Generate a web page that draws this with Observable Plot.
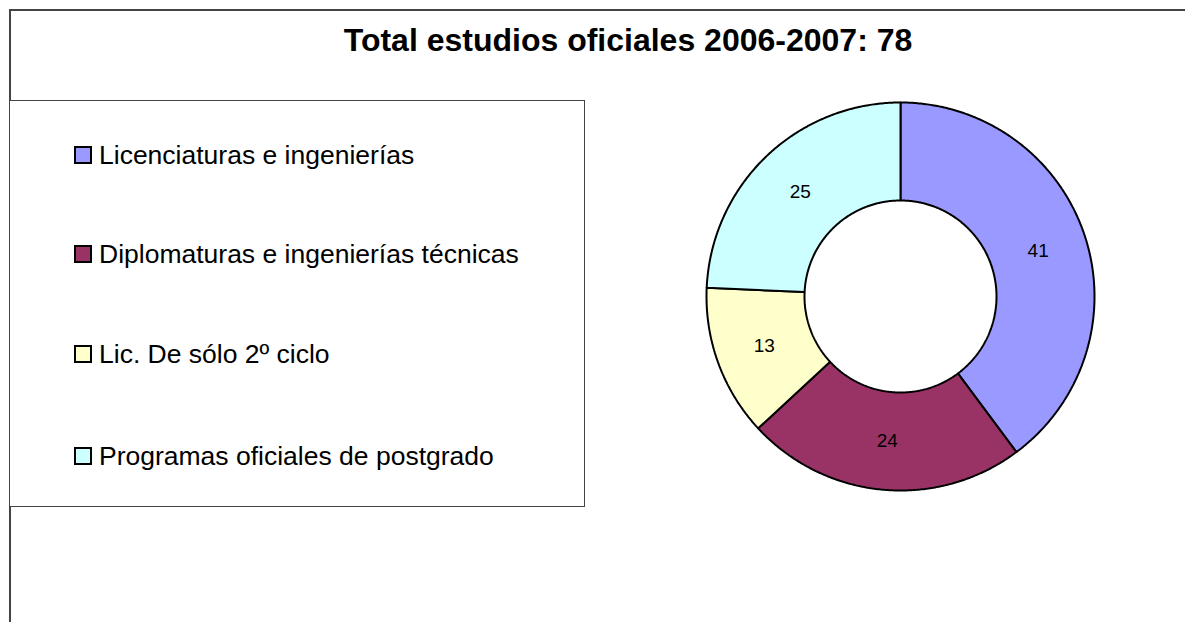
<!DOCTYPE html>
<html>
<head>
<meta charset="utf-8">
<script src="https://cdn.jsdelivr.net/npm/d3@7"></script>
<script src="https://cdn.jsdelivr.net/npm/@observablehq/plot@0.6"></script>
<style>
  html, body { margin: 0; padding: 0; background: #fff; }
  body { font-family: "Liberation Sans", Arial, sans-serif; }
  #page { position: relative; width: 1185px; height: 622px; overflow: hidden; }
  #frame { position: absolute; left: 9px; top: 9px; width: 1300px; height: 800px;
           border-left: 2px solid #444; border-top: 2px solid #444; box-sizing: border-box; }
  #title { position: absolute; left: 0; width: 1256px; top: 20px; text-align: center;
           font-size: 32px; font-weight: bold; color: #000; line-height: 40px; }
  #legend { position: absolute; left: 9px; top: 100px; width: 576px; height: 407px;
            border: 1.5px solid #444; box-sizing: border-box; background: #fff; }
  .item { position: absolute; left: 64px; height: 30px; display: flex; align-items: center; font-size: 26.5px; color: #000; line-height: 30px; }
  .sw { width: 14px; height: 14px; border: 2px solid #000; margin-right: 7px; }
  #chart { position: absolute; left: 690px; top: 86px; }
</style>
</head>
<body>
<div id="page">
  <div id="frame"></div>
  <div id="title"></div>
  <div id="legend"></div>
  <div id="chart"></div>
</div>
<script>
const titleText = "Total estudios oficiales 2006-2007: 78";
const categories = [
  "Licenciaturas e ingenierías",
  "Diplomaturas e ingenierías técnicas",
  "Lic. De sólo 2º ciclo",
  "Programas oficiales de postgrado"
];
const values = [41, 24, 13, 25];
const colors = ["#9999FF", "#993366", "#FFFFCC", "#CCFFFF"];

document.getElementById("title").textContent = titleText;

// Legend (HTML)
const legend = document.getElementById("legend");
const itemTops = [39, 138, 238, 340];
categories.forEach((c, i) => {
  const it = document.createElement("div");
  it.className = "item";
  it.style.top = itemTops[i] + "px";
  const sw = document.createElement("div");
  sw.className = "sw";
  sw.style.background = colors[i];
  const tx = document.createElement("span");
  tx.textContent = c;
  it.appendChild(sw); it.appendChild(tx);
  legend.appendChild(it);
});

// Donut geometry computed from the data
const R_OUT = 194, R_IN = 96, HALF = 210;
const pie = d3.pie().sort(null).value(d => d.value)(categories.map((c, i) => ({category: c, value: values[i]})));
const pts = [];
const labels = [];
for (const a of pie) {
  const cat = a.data.category;
  const n = Math.max(2, Math.ceil((a.endAngle - a.startAngle) / (Math.PI / 360)));
  const ring = [];
  for (let k = 0; k <= n; k++) {
    const t = a.startAngle + (a.endAngle - a.startAngle) * k / n;
    ring.push({category: cat, x: R_OUT * Math.sin(t), y: R_OUT * Math.cos(t)});
  }
  for (let k = n; k >= 0; k--) {
    const t = a.startAngle + (a.endAngle - a.startAngle) * k / n;
    ring.push({category: cat, x: R_IN * Math.sin(t), y: R_IN * Math.cos(t)});
  }
  ring.push({...ring[0]});
  pts.push(...ring);
  const m = (a.startAngle + a.endAngle) / 2, rm = (R_OUT + R_IN) / 2;
  labels.push({category: cat, value: a.data.value, x: rm * Math.sin(m), y: rm * Math.cos(m)});
}

const plot = Plot.plot({
  width: 2 * HALF,
  height: 2 * HALF,
  margin: 0,
  x: {domain: [-HALF, HALF], axis: null},
  y: {domain: [-HALF, HALF], axis: null},
  color: {domain: categories, range: colors},
  style: {background: "transparent", fontFamily: "Liberation Sans, Arial, sans-serif"},
  marks: [
    Plot.line(pts, {x: "x", y: "y", z: "category", fill: "category", stroke: "#000", strokeWidth: 2, strokeLinejoin: "miter"}),
    Plot.text(labels, {x: "x", y: "y", text: d => String(d.value), fontSize: 19, fill: "#000"})
  ]
});
document.getElementById("chart").appendChild(plot);
</script>
</body>
</html>
